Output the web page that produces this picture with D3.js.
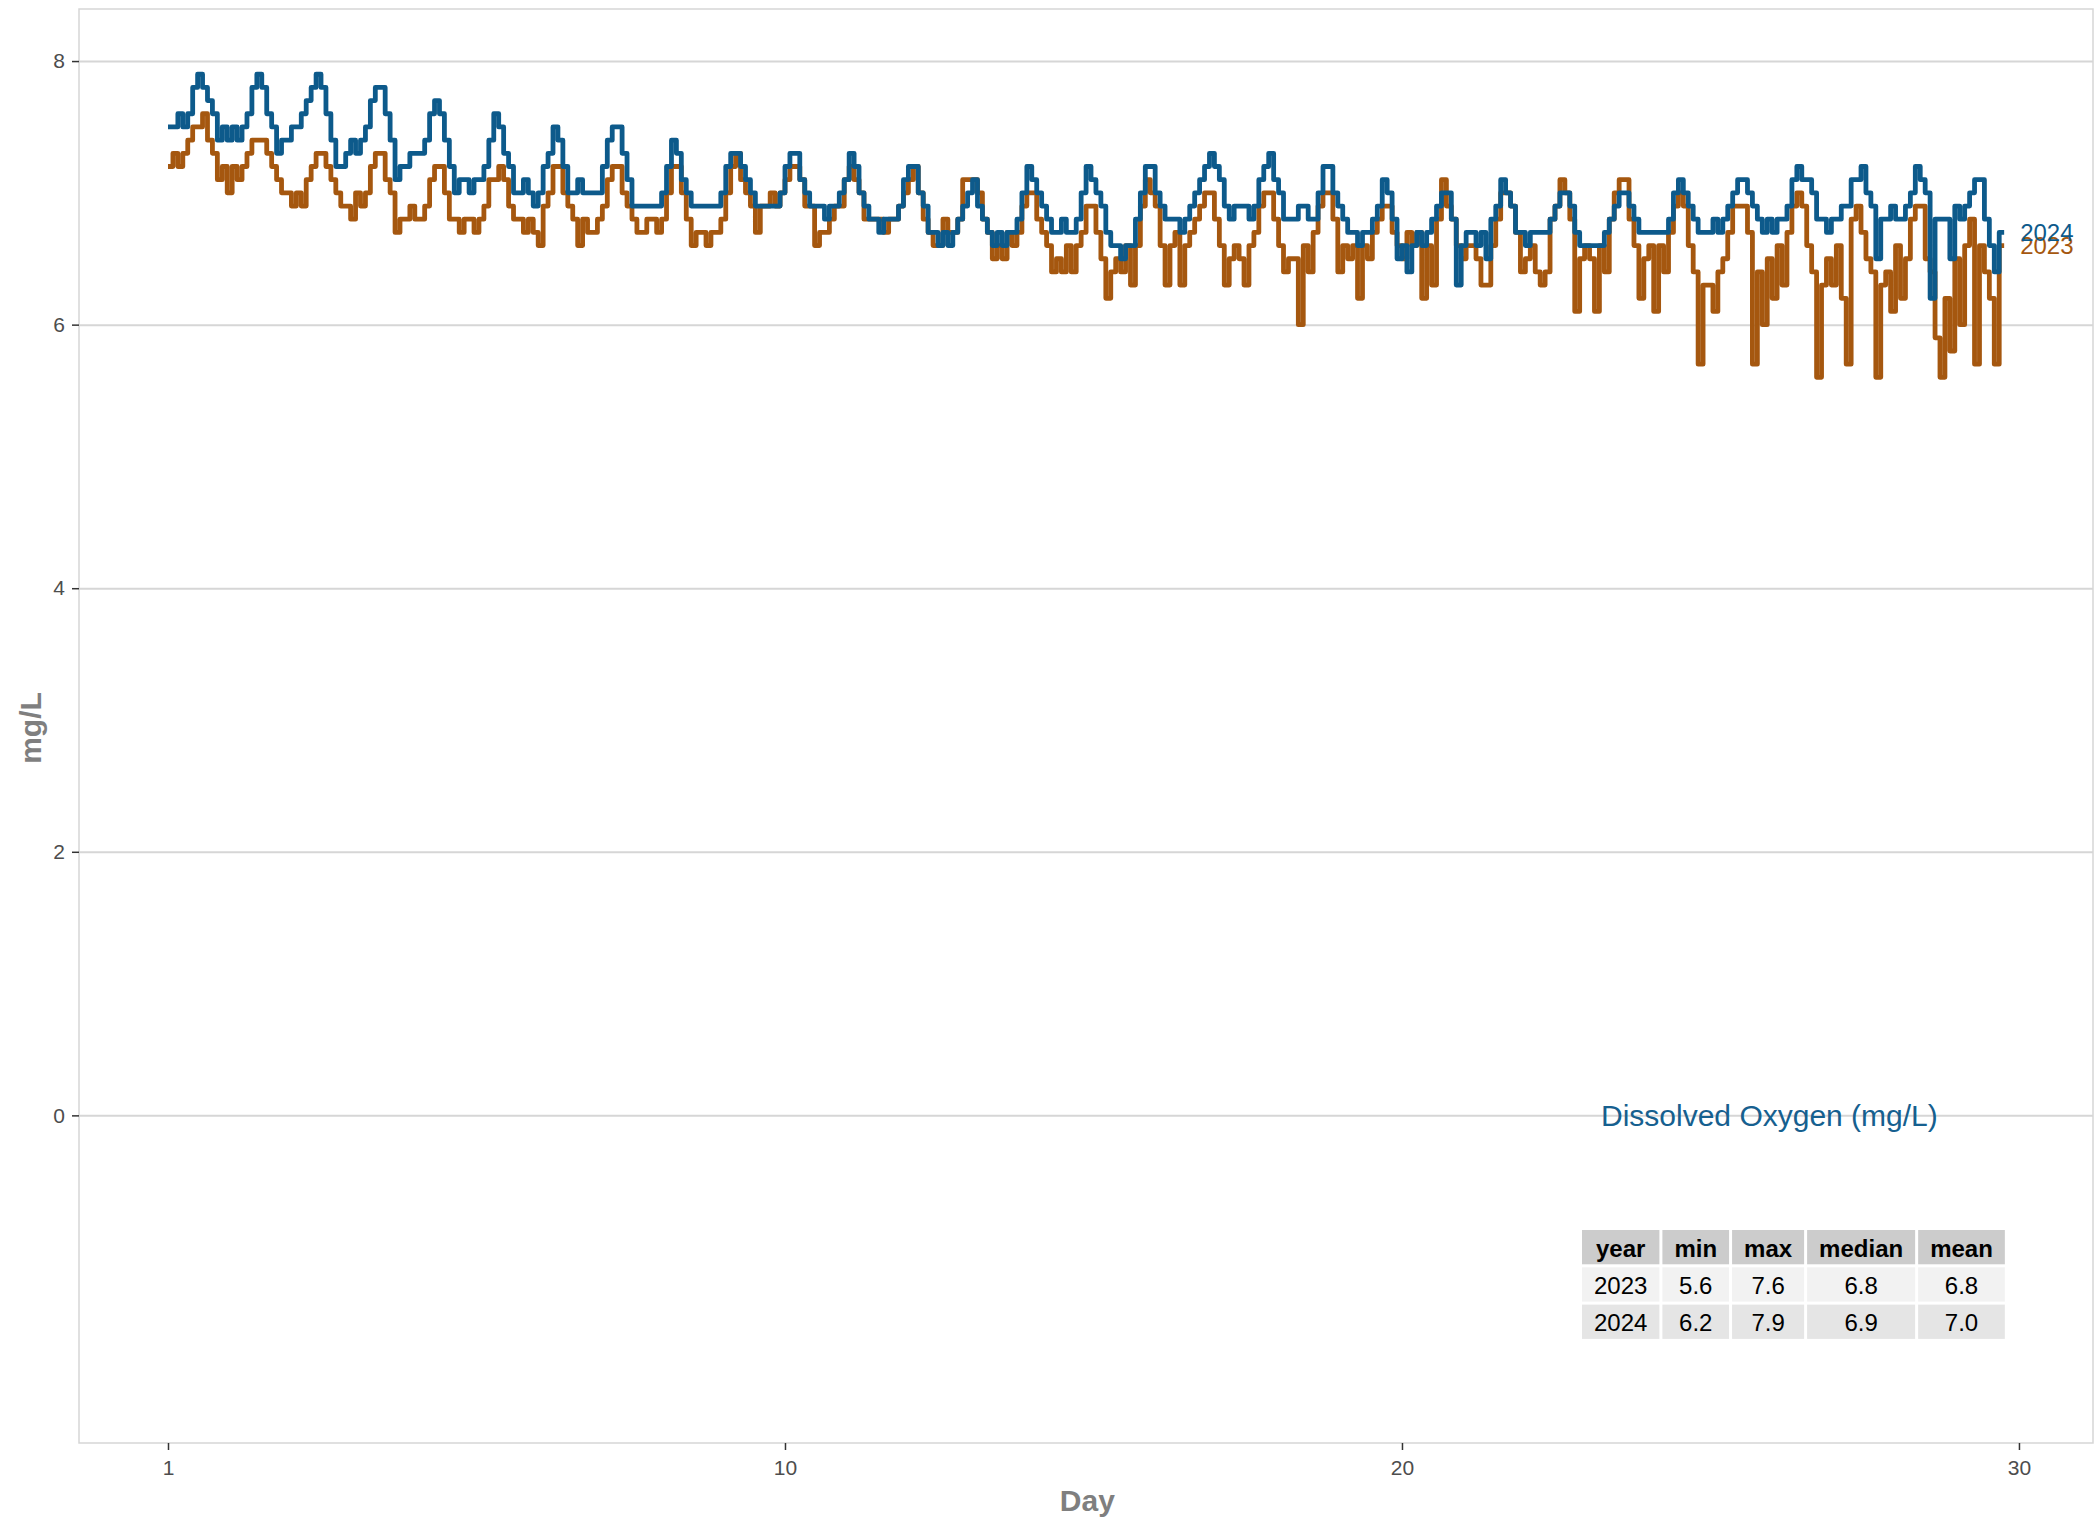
<!DOCTYPE html>
<html>
<head>
<meta charset="utf-8">
<script src="https://cdn.jsdelivr.net/npm/d3@7"></script>
<style>
  html, body { margin: 0; padding: 0; background: #ffffff; }
  svg { display: block; font-family: "Liberation Sans", Arial, Helvetica, sans-serif; }
</style>
</head>
<body>
<svg id="chart" width="2095" height="1519"></svg>
<script>
// Dissolved oxygen readings (mg/L), one reading every 0.08 axis units,
// twelve readings per daily cycle.
const sampleStep = 0.08;

const do2023 = [
  7.2, 7.3, 7.2, 7.3, 7.4, 7.5, 7.5, 7.6, 7.4, 7.3, 7.1, 7.2,
  7.0, 7.2, 7.1, 7.2, 7.3, 7.4, 7.4, 7.4, 7.3, 7.2, 7.1, 7.0,
  7.0, 6.9, 7.0, 6.9, 7.1, 7.2, 7.3, 7.3, 7.2, 7.1, 7.0, 6.9,
  6.9, 6.8, 7.0, 6.9, 7.0, 7.2, 7.3, 7.3, 7.1, 7.0, 6.7, 6.8,
  6.8, 6.9, 6.8, 6.8, 6.9, 7.1, 7.2, 7.2, 7.0, 6.8, 6.8, 6.7,
  6.8, 6.8, 6.7, 6.8, 6.9, 7.1, 7.1, 7.2, 7.1, 6.9, 6.8, 6.8,
  6.7, 6.8, 6.7, 6.6, 6.9, 7.0, 7.2, 7.2, 7.0, 6.9, 6.8, 6.6,
  6.8, 6.7, 6.7, 6.8, 6.9, 7.1, 7.2, 7.2, 7.0, 6.9, 6.8, 6.7,
  6.7, 6.8, 6.8, 6.7, 6.8, 7.0, 7.2, 7.2, 7.0, 6.8, 6.6, 6.7,
  6.7, 6.6, 6.7, 6.7, 6.8, 7.0, 7.2, 7.3, 7.1, 7.0, 6.9, 6.7,
  6.9, 6.9, 7.0, 6.9, 7.0, 7.1, 7.2, 7.2, 7.1, 6.9, 6.9, 6.6,
  6.7, 6.7, 6.8, 6.9, 6.9, 7.1, 7.2, 7.1, 7.0, 6.8, 6.8, 6.8,
  6.8, 6.7, 6.8, 6.8, 6.9, 7.0, 7.1, 7.2, 7.0, 6.8, 6.7, 6.6,
  6.6, 6.8, 6.7, 6.7, 6.8, 7.1, 7.1, 7.1, 7.0, 6.8, 6.7, 6.5,
  6.6, 6.5, 6.7, 6.6, 6.7, 6.9, 7.0, 7.0, 6.8, 6.7, 6.6, 6.4,
  6.5, 6.4, 6.6, 6.4, 6.6, 6.7, 6.9, 6.9, 6.7, 6.5, 6.2, 6.4,
  6.5, 6.4, 6.6, 6.3, 6.6, 6.9, 7.1, 7.0, 6.9, 6.6, 6.3, 6.6,
  6.7, 6.3, 6.6, 6.7, 6.8, 6.9, 7.0, 7.0, 6.8, 6.6, 6.3, 6.5,
  6.6, 6.5, 6.3, 6.6, 6.7, 6.9, 7.0, 7.0, 6.8, 6.6, 6.4, 6.5,
  6.5, 6.0, 6.6, 6.4, 6.7, 6.9, 7.0, 7.0, 6.8, 6.4, 6.6, 6.5,
  6.6, 6.2, 6.6, 6.5, 6.7, 6.8, 6.9, 6.9, 6.7, 6.6, 6.5, 6.7,
  6.6, 6.7, 6.2, 6.6, 6.3, 6.8, 7.1, 6.9, 6.8, 6.6, 6.5, 6.6,
  6.6, 6.5, 6.3, 6.3, 6.6, 6.8, 7.0, 7.0, 6.9, 6.7, 6.4, 6.5,
  6.6, 6.4, 6.3, 6.4, 6.8, 6.9, 7.1, 7.0, 6.8, 6.1, 6.5, 6.6,
  6.5, 6.1, 6.6, 6.4, 6.8, 7.0, 7.1, 7.1, 6.8, 6.6, 6.2, 6.5,
  6.6, 6.1, 6.6, 6.4, 6.7, 6.9, 7.0, 6.9, 6.6, 6.4, 5.7, 6.3,
  6.3, 6.1, 6.4, 6.5, 6.7, 6.9, 6.9, 6.9, 6.7, 5.7, 6.4, 6.0,
  6.5, 6.2, 6.6, 6.3, 6.7, 6.9, 7.0, 6.9, 6.6, 6.4, 5.6, 6.3,
  6.5, 6.3, 6.6, 6.2, 5.7, 6.8, 6.9, 6.7, 6.5, 6.4, 5.6, 6.3,
  6.4, 6.1, 6.6, 6.2, 6.5, 6.8, 6.9, 6.9, 6.5, 6.4, 5.9, 5.6,
  6.2, 5.8, 6.5, 6.0, 6.6, 6.8, 5.7, 6.6, 6.4, 6.2, 5.7, 6.6
];

const do2024 = [
  7.5, 7.5, 7.6, 7.5, 7.6, 7.8, 7.9, 7.8, 7.7, 7.6, 7.4, 7.5,
  7.4, 7.5, 7.4, 7.5, 7.6, 7.8, 7.9, 7.8, 7.6, 7.5, 7.3, 7.4,
  7.4, 7.5, 7.5, 7.6, 7.7, 7.8, 7.9, 7.8, 7.6, 7.4, 7.2, 7.2,
  7.3, 7.4, 7.3, 7.4, 7.5, 7.7, 7.8, 7.8, 7.6, 7.4, 7.1, 7.2,
  7.2, 7.3, 7.3, 7.3, 7.4, 7.6, 7.7, 7.6, 7.4, 7.2, 7.0, 7.1,
  7.1, 7.0, 7.1, 7.1, 7.2, 7.4, 7.6, 7.5, 7.3, 7.2, 7.0, 7.0,
  7.1, 7.0, 6.9, 7.0, 7.2, 7.3, 7.5, 7.4, 7.2, 7.0, 7.0, 7.1,
  7.0, 7.0, 7.0, 7.0, 7.2, 7.4, 7.5, 7.5, 7.3, 7.1, 6.9, 6.9,
  6.9, 6.9, 6.9, 6.9, 7.0, 7.2, 7.4, 7.3, 7.1, 7.0, 6.9, 6.9,
  6.9, 6.9, 6.9, 6.9, 7.0, 7.2, 7.3, 7.3, 7.2, 7.1, 7.0, 6.9,
  6.9, 6.9, 6.9, 6.9, 7.0, 7.2, 7.3, 7.3, 7.1, 7.0, 6.9, 6.9,
  6.9, 6.8, 6.9, 6.9, 7.0, 7.1, 7.3, 7.2, 7.0, 6.9, 6.8, 6.8,
  6.7, 6.8, 6.8, 6.8, 6.9, 7.1, 7.2, 7.2, 7.0, 6.9, 6.7, 6.7,
  6.6, 6.7, 6.6, 6.7, 6.8, 6.9, 7.0, 7.1, 6.9, 6.8, 6.7, 6.6,
  6.7, 6.6, 6.7, 6.7, 6.8, 7.0, 7.2, 7.1, 7.0, 6.9, 6.8, 6.7,
  6.7, 6.8, 6.7, 6.7, 6.8, 7.0, 7.2, 7.1, 7.0, 6.9, 6.7, 6.6,
  6.6, 6.5, 6.6, 6.6, 6.8, 7.0, 7.2, 7.2, 7.0, 6.9, 6.8, 6.8,
  6.8, 6.7, 6.8, 6.9, 7.0, 7.1, 7.2, 7.3, 7.2, 7.1, 6.9, 6.8,
  6.9, 6.9, 6.9, 6.8, 6.9, 7.1, 7.2, 7.3, 7.1, 7.0, 6.8, 6.8,
  6.8, 6.9, 6.9, 6.8, 6.8, 7.0, 7.2, 7.2, 7.0, 6.9, 6.8, 6.7,
  6.7, 6.6, 6.7, 6.7, 6.8, 6.9, 7.1, 7.0, 6.8, 6.5, 6.6, 6.4,
  6.6, 6.7, 6.6, 6.7, 6.8, 6.9, 7.0, 7.0, 6.8, 6.3, 6.6, 6.7,
  6.7, 6.6, 6.7, 6.5, 6.8, 6.9, 7.1, 7.0, 6.9, 6.7, 6.7, 6.6,
  6.7, 6.7, 6.7, 6.7, 6.8, 6.9, 7.0, 7.0, 6.9, 6.7, 6.6, 6.6,
  6.6, 6.6, 6.6, 6.7, 6.8, 6.9, 7.0, 7.0, 6.9, 6.8, 6.7, 6.7,
  6.7, 6.7, 6.7, 6.7, 6.8, 7.0, 7.1, 7.0, 6.9, 6.8, 6.7, 6.7,
  6.7, 6.8, 6.7, 6.8, 6.9, 7.0, 7.1, 7.1, 7.0, 6.9, 6.8, 6.7,
  6.8, 6.7, 6.8, 6.8, 6.9, 7.1, 7.2, 7.1, 7.1, 7.0, 6.8, 6.8,
  6.7, 6.8, 6.8, 6.9, 6.9, 7.1, 7.1, 7.2, 7.0, 6.9, 6.5, 6.8,
  6.8, 6.9, 6.8, 6.8, 6.9, 7.0, 7.2, 7.1, 7.0, 6.2, 6.8, 6.8,
  6.8, 6.5, 6.9, 6.8, 6.9, 7.0, 7.1, 7.1, 6.8, 6.6, 6.4, 6.7
];

const seriesYears = ["2023", "2024"];

// Axis ticks
const xTickValues = [0, 10, 20, 30];
const xTickLabels = ["1", "10", "20", "30"];
const yTickValues = [0, 2, 4, 6, 8];

// Summary table
const tableTitle = "Dissolved Oxygen (mg/L)";
const tableColumns = ["year", "min", "max", "median", "mean"];
const tableRows = [
  ["2023", "5.6", "7.6", "6.8", "6.8"],
  ["2024", "6.2", "7.9", "6.9", "7.0"]
];

// ---------------------------------------------------------------
const colorFor = { "2023": "#a5570f", "2024": "#0d5a8b" };
const panel = { left: 79, right: 2093, top: 9, bottom: 1443 };

const svg = d3.select("#chart");

const x = d3.scaleLinear().domain([-1.4425, 31.2]).range([panel.left, panel.right]);
const y = d3.scaleLinear().domain([-2.486, 8.395]).range([panel.bottom, panel.top]);

// Panel background
svg.append("rect")
  .attr("x", panel.left).attr("y", panel.top)
  .attr("width", panel.right - panel.left).attr("height", panel.bottom - panel.top)
  .attr("fill", "#ffffff");

// Horizontal grid lines
const grid = svg.append("g")
  .attr("transform", `translate(${panel.left},0)`)
  .call(d3.axisLeft(y).tickValues(yTickValues).tickSize(-(panel.right - panel.left)).tickFormat(""));
grid.select(".domain").remove();
grid.selectAll("line").attr("stroke", "#d6d6d6").attr("stroke-width", 2);

// Panel border
svg.append("rect")
  .attr("x", panel.left).attr("y", panel.top)
  .attr("width", panel.right - panel.left).attr("height", panel.bottom - panel.top)
  .attr("fill", "none").attr("stroke", "#d6d6d6").attr("stroke-width", 1.5);

// Series lines
const seriesData = { "2023": do2023, "2024": do2024 };
const line = d3.line()
  .x(d => x(d[0]))
  .y(d => y(d[1]))
  .curve(d3.curveStepAfter);

const lineLayer = svg.append("g");
seriesYears.forEach(yr => {
  const vals = seriesData[yr];
  const pts = vals.map((v, i) => [i * sampleStep, v]);
  pts.push([vals.length * sampleStep, vals[vals.length - 1]]);
  lineLayer.append("path")
    .datum(pts)
    .attr("d", line)
    .attr("fill", "none")
    .attr("stroke", colorFor[yr])
    .attr("stroke-width", 4.8)
    .attr("stroke-linejoin", "round");
});

// End-of-line year labels
seriesYears.forEach(yr => {
  const vals = seriesData[yr];
  svg.append("text")
    .attr("x", x(vals.length * sampleStep) + 16)
    .attr("y", y(vals[vals.length - 1]))
    .attr("dominant-baseline", "central")
    .attr("font-size", 24)
    .attr("fill", colorFor[yr])
    .text(yr);
});

// Axes
const yAxis = svg.append("g")
  .attr("transform", `translate(${panel.left},0)`)
  .call(d3.axisLeft(y).tickValues(yTickValues).tickSize(7).tickPadding(7).tickFormat(d3.format("d")));
yAxis.select(".domain").remove();
yAxis.selectAll("line").attr("stroke", "#333333").attr("stroke-width", 1.5);
yAxis.selectAll("text").attr("font-size", 21).attr("fill", "#4d4d4d")
  .attr("font-family", "Liberation Sans, Arial, sans-serif");

const xAxis = svg.append("g")
  .attr("transform", `translate(0,${panel.bottom})`)
  .call(d3.axisBottom(x).tickValues(xTickValues).tickSize(7).tickPadding(10)
    .tickFormat((d, i) => xTickLabels[i]));
xAxis.select(".domain").remove();
xAxis.selectAll("line").attr("stroke", "#333333").attr("stroke-width", 1.5);
xAxis.selectAll("text").attr("font-size", 21).attr("fill", "#4d4d4d")
  .attr("font-family", "Liberation Sans, Arial, sans-serif");

// Axis titles
svg.append("text")
  .attr("x", x(14.9)).attr("y", 1500)
  .attr("text-anchor", "middle").attr("dominant-baseline", "central")
  .attr("font-size", 30).attr("font-weight", "bold").attr("fill", "#7f7f7f")
  .text("Day");

svg.append("text")
  .attr("transform", `translate(30,${(panel.top + panel.bottom) / 2 + 2}) rotate(-90)`)
  .attr("text-anchor", "middle").attr("dominant-baseline", "central")
  .attr("font-size", 30).attr("font-weight", "bold").attr("fill", "#7f7f7f")
  .text("mg/L");

// Summary table with its title
svg.append("text")
  .attr("x", 1601).attr("y", y(0))
  .attr("dominant-baseline", "central")
  .attr("font-size", 30).attr("fill", "#16608f")
  .text(tableTitle);

const table = svg.append("g").attr("transform", "translate(1582,1230)");
const pad = 24, rowH = 37.3, gap = 3;

// column widths from the widest entry in each column
const measure = svg.append("text").attr("font-size", 24).attr("visibility", "hidden");
const colW = tableColumns.map((c, ci) => {
  let w = measure.attr("font-weight", "bold").text(c).node().getComputedTextLength();
  tableRows.forEach(r => {
    w = Math.max(w, measure.attr("font-weight", "normal").text(r[ci]).node().getComputedTextLength());
  });
  return w + pad;
});
measure.remove();
const colX = [];
colW.reduce((acc, w, i) => { colX[i] = acc; return acc + w + gap; }, 0);

const allRows = [tableColumns].concat(tableRows);
const fills = ["#cccccc", "#f2f2f2", "#e5e5e5"];
allRows.forEach((row, ri) => {
  row.forEach((cell, ci) => {
    table.append("rect")
      .attr("x", colX[ci]).attr("y", ri * rowH)
      .attr("width", colW[ci]).attr("height", rowH - gap)
      .attr("fill", fills[ri]);
    table.append("text")
      .attr("x", colX[ci] + colW[ci] / 2).attr("y", ri * rowH + (rowH - gap) / 2 + 1)
      .attr("text-anchor", "middle").attr("dominant-baseline", "central")
      .attr("font-size", 24).attr("font-weight", ri === 0 ? "bold" : "normal")
      .attr("fill", "#000000")
      .text(cell);
  });
});
</script>
</body>
</html>
